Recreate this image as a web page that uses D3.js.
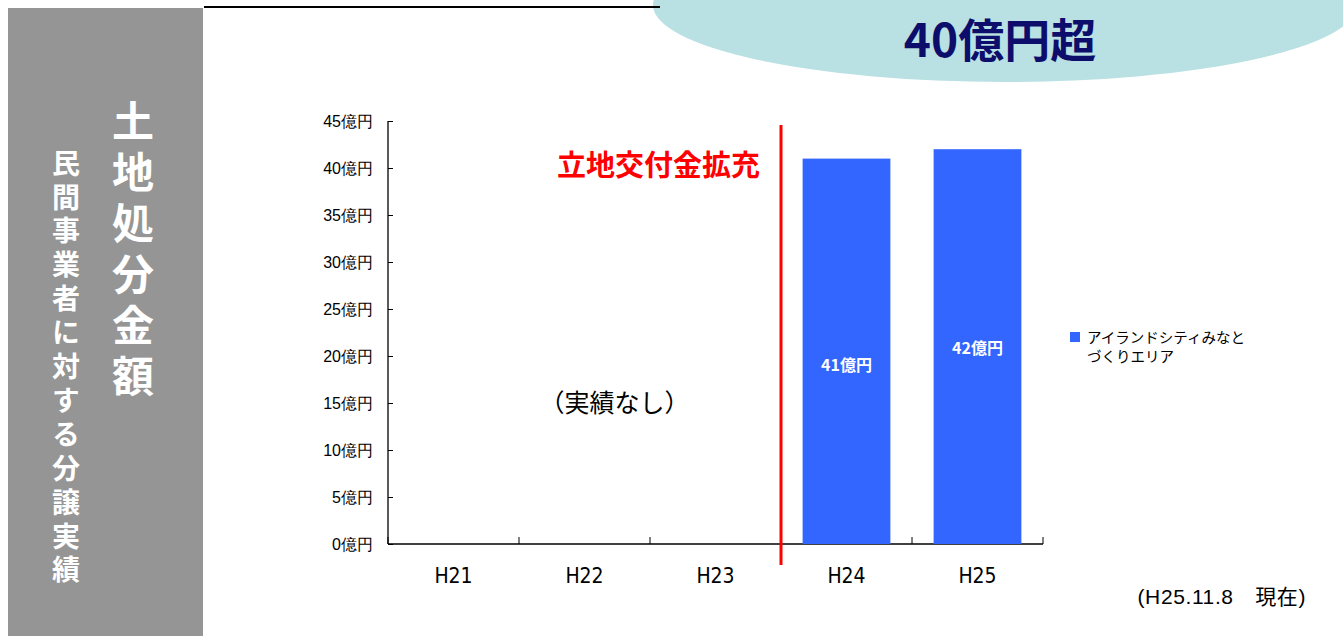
<!DOCTYPE html>
<html>
<head>
<meta charset="utf-8">
<script src="https://cdn.jsdelivr.net/npm/d3@7"></script>
<style>
  body { margin: 0; background: #fff; }
  svg { display: block; font-family: "Noto Sans CJK JP", "Noto Sans", sans-serif; }
</style>
</head>
<body>
<script>
// data
const years = ["H21", "H22", "H23", "H24", "H25"];
const amounts = [null, null, null, 41, 42];   // 億円
const barLabels = ["", "", "", "41億円", "42億円"];
const yTicks = [0, 5, 10, 15, 20, 25, 30, 35, 40, 45];
const seriesName = ["アイランドシティみなと", "づくりエリア"];
const panelTitle = "土地処分金額";
const panelSub = "民間事業者に対する分譲実績";

const W = 1343, H = 636;
const margin = {top: 121, bottom: 92, left: 388, right: 300};
const width = W - margin.left - margin.right;
const height = H - margin.top - margin.bottom;

const svg = d3.select("body").append("svg")
  .attr("width", W)
  .attr("height", H);

// top callout
svg.append("ellipse")
  .attr("cx", 1005).attr("cy", 5)
  .attr("rx", 352).attr("ry", 77)
  .attr("fill", "#b9e0e3");
svg.append("text")
  .attr("x", 1000).attr("y", 57)
  .attr("text-anchor", "middle")
  .attr("font-size", 46).attr("font-weight", "bold")
  .attr("fill", "#0d0d6b")
  .text("40億円超");

// top rule
svg.append("line")
  .attr("x1", 204).attr("x2", 660)
  .attr("y1", 7).attr("y2", 7)
  .attr("stroke", "#000").attr("stroke-width", 2);

// left grey panel
svg.append("rect")
  .attr("x", 8).attr("y", 8)
  .attr("width", 195).attr("height", H - 8)
  .attr("fill", "#959595");

// vertical titles
svg.append("text")
  .attr("x", 133).attr("y", 100)
  .style("writing-mode", "vertical-rl")
  .attr("font-size", 42).attr("font-weight", "bold")
  .attr("letter-spacing", 9)
  .attr("fill", "#fff")
  .text(panelTitle);

svg.append("text")
  .attr("x", 66).attr("y", 149)
  .style("writing-mode", "vertical-rl")
  .attr("font-size", 28).attr("font-weight", "bold")
  .attr("letter-spacing", 5.9)
  .attr("fill", "#fff")
  .text(panelSub);

const g = svg.append("g")
  .attr("transform", `translate(${margin.left},${margin.top})`);

// scales
const xscale = d3.scaleBand().domain(years).range([0, width])
  .paddingInner(0.33).paddingOuter(0.165);
const yscale = d3.scaleLinear().domain([0, 45]).range([height, 0]);

// y axis
const yaxis = d3.axisLeft(yscale).tickValues(yTicks)
  .tickSize(-5).tickPadding(15)
  .tickFormat(d => d + "億円");
const g_yaxis = g.append("g").attr("class", "y axis").call(yaxis);
g_yaxis.select(".domain").attr("d", `M0,0V${height}`).attr("stroke-width", 1.3);
g_yaxis.selectAll("text").attr("font-size", 16).attr("fill", "#000");

// x axis (labels only, ticks on band edges)
const xaxis = d3.axisBottom(xscale).tickSize(0).tickPadding(24);
const g_xaxis = g.append("g").attr("class", "x axis")
  .attr("transform", `translate(0,${height})`).call(xaxis);
g_xaxis.select(".domain").attr("d", `M0,0H${width}`).attr("stroke-width", 1.3);
g_xaxis.selectAll("text")
  .attr("font-family", "'Liberation Sans Narrow', 'DejaVu Sans Condensed', sans-serif")
  .attr("font-size", 21).attr("fill", "#000");

const edges = d3.range(years.length + 1).map(i => i * xscale.step());
g.append("g").selectAll("line")
  .data(edges)
  .join("line")
  .attr("x1", d => d).attr("x2", d => d)
  .attr("y1", height).attr("y2", height - 7)
  .attr("stroke", "#000").attr("stroke-width", 1);

// bars
const barData = years.map((y, i) => ({year: y, value: amounts[i], label: barLabels[i]}))
  .filter(d => d.value != null);

g.selectAll("rect.bar")
  .data(barData)
  .join("rect")
  .attr("class", "bar")
  .attr("x", d => xscale(d.year))
  .attr("width", xscale.bandwidth())
  .attr("y", d => yscale(d.value))
  .attr("height", d => height - yscale(d.value))
  .attr("fill", "#3366ff");

g.selectAll("text.blabel")
  .data(barData)
  .join("text")
  .attr("class", "blabel")
  .attr("x", d => xscale(d.year) + xscale.bandwidth() / 2)
  .attr("y", (d, i) => yscale(d.value / 2) + (i === 0 ? 14 : 2))
  .attr("dy", "0.35em")
  .attr("text-anchor", "middle")
  .attr("font-size", 16).attr("font-weight", "bold")
  .attr("fill", "#fff")
  .text(d => d.label);

// red divider between H23 and H24
const divX = xscale("H24") - xscale.step() * xscale.paddingInner() / 2;
g.append("line")
  .attr("x1", divX).attr("x2", divX)
  .attr("y1", 4).attr("y2", height + 21)
  .attr("stroke", "#ff0000").attr("stroke-width", 3);

g.append("text")
  .attr("x", divX - 21).attr("y", 45)
  .attr("dy", "0.35em")
  .attr("text-anchor", "end")
  .attr("font-size", 29).attr("font-weight", "bold")
  .attr("fill", "#ff0000")
  .text("立地交付金拡充");

g.append("text")
  .attr("x", xscale.step() * 1.73)
  .attr("y", yscale(15))
  .attr("dy", "0.35em")
  .attr("text-anchor", "middle")
  .attr("font-size", 25)
  .attr("fill", "#000")
  .text("（実績なし）");

// legend
const legend = svg.append("g").attr("transform", "translate(1070,332)");
legend.append("rect").attr("width", 10).attr("height", 10).attr("fill", "#3366ff");
legend.selectAll("text")
  .data(seriesName)
  .join("text")
  .attr("x", 17)
  .attr("y", (d, i) => 6 + i * 19)
  .attr("dy", "0.35em")
  .attr("font-size", 14.5)
  .attr("fill", "#000")
  .text(d => d);

// note
svg.append("text")
  .attr("x", 1306).attr("y", 597)
  .attr("dy", "0.35em")
  .attr("text-anchor", "end")
  .attr("font-family", "'Liberation Sans', Arial, 'Noto Sans CJK JP', sans-serif")
  .attr("font-size", 21)
  .attr("letter-spacing", 0.6)
  .attr("fill", "#000")
  .text("(H25.11.8\u3000現在)");
</script>
</body>
</html>
